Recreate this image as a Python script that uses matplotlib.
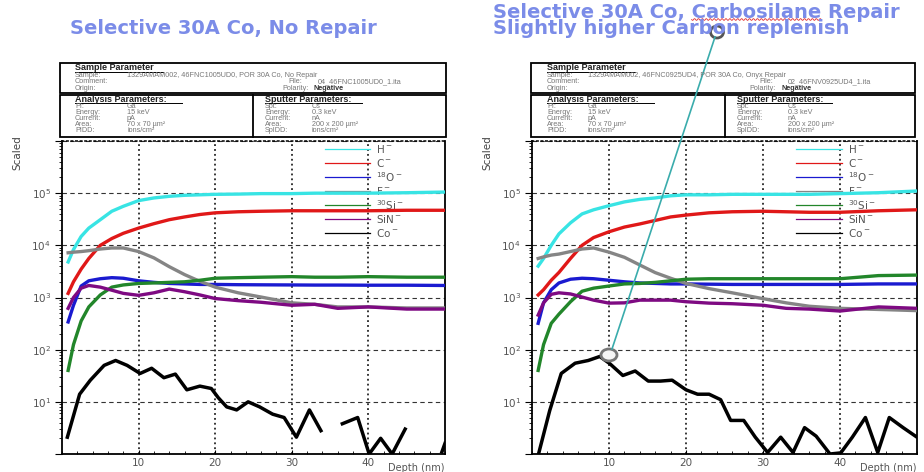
import numpy as np
import matplotlib
matplotlib.use("Agg")
import matplotlib.pyplot as plt
from matplotlib.patches import Rectangle, Ellipse
from matplotlib.ticker import LogLocator, MultipleLocator, NullFormatter

plt.rcParams['font.family'] = ['Liberation Sans', 'DejaVu Sans']
plt.rcParams['mathtext.default'] = 'regular'

# --- data (depth in nm, intensity in counts) ---
depth = [0.8, 1.5, 2.5, 3.5, 5, 6.5, 8, 10, 12, 14, 16, 18, 20, 23, 26, 30, 33, 36, 40, 45, 50]

species = ['H$^-$', 'C$^-$', '$^{18}$O$^-$', 'F$^-$', '$^{30}$Si$^-$', 'SiN$^-$', 'Co$^-$']
colors = ['#38e4e4', '#e01818', '#1a1ad0', '#858585', '#22862a', '#7e0a82', '#000000']

# No Repair
h_norep = [4800, 8300, 14800, 21400, 31000, 45000, 56000, 72000, 81000, 87000, 91000,
           93000, 95000, 96000, 98000, 98000, 100000, 100000, 100000, 102000, 105000]
c_norep = [1200, 2000, 3500, 5600, 10000, 13500, 17000, 21400, 26000, 31000, 35000,
           39000, 42000, 44000, 45000, 46000, 46000, 46000, 46000, 47000, 47000]
o18_norep = [340, 710, 1660, 2090, 2290, 2400, 2340, 2090, 1950, 1860, 1820,
             1780, 1780, 1760, 1750, 1740, 1730, 1730, 1720, 1720, 1700]
f_norep = [7200, 7400, 7600, 7900, 8500, 8900, 8900, 7600, 5750, 3900, 2750,
           2040, 1580, 1230, 1020, 790, 740, 660, 660, 630, 630]
si30_norep = [40, 125, 355, 660, 1120, 1580, 1740, 1860, 1900, 1950, 2000,
              2140, 2340, 2400, 2450, 2510, 2450, 2450, 2510, 2450, 2450]
sin_norep = [620, 1000, 1510, 1700, 1580, 1380, 1200, 1100, 1230, 1450, 1290,
             1120, 955, 870, 810, 710, 740, 620, 660, 600, 600]
co_depth_norep = [0.7, 2.3, 3.7, 5.5, 7.0, 8.5, 10.2, 11.7, 13.3, 14.8, 16.3, 18.0, 19.5,
                  20.4, 21.5, 22.8, 24.3, 25.8, 27.5, 29.0, 30.6, 32.3, 33.8, 35.2, 36.6,
                  38.6, 40.1, 41.6, 43.1, 44.8, 46.0, 49.6, 50.0]
co_norep = [2.1, 14, 26, 50, 62, 50, 35, 44, 29, 34, 17, 20, 18,
            12, 8, 7, 10, 8, 5.8, 5, 2.1, 7, 2.8, np.nan, 3.8,
            5, 1.0, 2.0, 1.0, 3.0, np.nan, 1.1, 1.6]

# Carbosilane Repair
h_rep = [4000, 5600, 10000, 16600, 27000, 40000, 48000, 57500, 68000, 76000, 81000,
         89000, 93000, 93000, 95000, 95000, 95000, 95000, 98000, 102000, 110000]
c_rep = [1120, 1410, 2140, 3020, 5600, 10000, 14100, 18200, 22400, 25700, 30000,
         35000, 38000, 42000, 44000, 45000, 44000, 43000, 43000, 46000, 48000]
o18_rep = [320, 790, 1410, 1900, 2240, 2340, 2290, 2140, 2000, 1900, 1860,
           1820, 1820, 1800, 1780, 1780, 1780, 1780, 1780, 1820, 1820]
f_rep = [5600, 6000, 6500, 6800, 7600, 8500, 8900, 7400, 5900, 4200, 3000,
         2340, 1860, 1480, 1230, 950, 790, 680, 620, 590, 560]
si30_rep = [40, 125, 320, 480, 830, 1320, 1510, 1660, 1820, 1860, 1950,
            2090, 2240, 2290, 2290, 2290, 2290, 2290, 2290, 2630, 2690]
sin_rep = [460, 790, 1150, 1230, 1170, 1020, 890, 780, 790, 890, 890,
           890, 830, 780, 760, 710, 620, 600, 550, 660, 620]
co_depth_rep = [0.9, 2.3, 3.8, 5.6, 7.3, 8.8, 10.1, 11.8, 13.4, 15.1, 16.7, 18.2, 20.0,
                21.5, 23.0, 24.5, 25.8, 27.5, 29.0, 30.6, 32.3, 33.9, 35.4, 36.9, 38.7,
                40.1, 41.6, 43.3, 44.9, 46.4, 48.2, 50.0]
co_rep = [1.07, 6.8, 35, 55, 62, 74, 54, 32, 39, 25, 25, 26, 17,
          14, 14, 11, 4.4, 4.4, 2.1, 1.07, 2.1, 1.07, 3.2, 2.2, 1.0,
          1.05, 2.1, 5.0, 1.07, 5.0, 3.2, 2.1]

W, H = 924, 472
fig = plt.figure(figsize=(W / 100, H / 100), dpi=100)


def frac(x0, y0, x1, y1):
    return [x0 / W, 1 - y1 / H, (x1 - x0) / W, (y1 - y0) / H]


def draw_panel(ax, curves, co_d, co_v):
    for vals, col in zip(curves, colors[:6]):
        ax.plot(depth, vals, color=col, lw=2.4, zorder=3, solid_joinstyle='round')
    ax.plot(co_d, co_v, color=colors[6], lw=2.5, zorder=3, solid_joinstyle='round')

    ax.set_yscale('log')
    ax.set_ylim(1, 1e6)
    ax.set_xlim(0, 50)

    ax.set_yticks([10 ** k for k in range(7)])
    ax.set_yticklabels([''] + ['10$^{%d}$' % k for k in range(1, 6)] + [''])
    ax.yaxis.set_minor_locator(LogLocator(base=10, subs=range(2, 10)))
    ax.yaxis.set_minor_formatter(NullFormatter())
    ax.set_xticks([10, 20, 30, 40])
    ax.set_xticklabels(['10', '20', '30', '40'])
    ax.xaxis.set_minor_locator(MultipleLocator(2))

    ax.tick_params(axis='y', which='major', length=5, width=0.8, labelsize=7.5,
                   labelcolor='#555', pad=3)
    ax.tick_params(axis='y', which='minor', length=2.5, width=0.6)
    ax.tick_params(axis='x', which='major', length=3, direction='in', labelsize=7.5,
                   labelcolor='#555', pad=3)
    ax.tick_params(axis='x', which='minor', length=2, direction='in')
    for lab in ax.get_xticklabels() + ax.get_yticklabels():
        lab.set_family('DejaVu Sans')

    ax.xaxis.grid(True, color='k', ls=(0, (1.2, 2)), lw=1.1, zorder=1)
    ax.yaxis.grid(True, which='major', color='#333', ls=(0, (4, 3)), lw=0.8, zorder=1)
    ax.set_axisbelow(True)

    for s in ['left', 'bottom', 'right']:
        ax.spines[s].set_linewidth(1.3)
    ax.spines['top'].set_linestyle((0, (1, 2)))
    ax.spines['top'].set_linewidth(1.1)

    # legend
    for i, (lab, col) in enumerate(zip(species, colors)):
        y = 0.974 - i * 0.0447
        ax.plot([0.687, 0.804], [y, y], transform=ax.transAxes, color=col, lw=0.9, zorder=2)
        ax.text(0.82, y, lab, transform=ax.transAxes, va='center', ha='left',
                fontsize=7.5, color='#555', zorder=2, family='DejaVu Sans')

    ax.text(1.0, -0.045, 'Depth (nm)', transform=ax.transAxes, ha='right', va='center',
            fontsize=7, color='#555', family='DejaVu Sans')


ax_l = fig.add_axes(frac(62, 141, 445, 454))
draw_panel(ax_l, [h_norep, c_norep, o18_norep, f_norep, si30_norep, sin_norep],
           co_depth_norep, co_norep)
ax_r = fig.add_axes(frac(532, 141, 917, 454))
draw_panel(ax_r, [h_rep, c_rep, o18_rep, f_rep, si30_rep, sin_rep],
           co_depth_rep, co_rep)

# --- overlay in pixel coordinates for titles, header tables and annotation ---
ov = fig.add_axes([0, 0, 1, 1])
ov.set_xlim(0, W)
ov.set_ylim(H, 0)
ov.axis('off')
ov.patch.set_visible(False)

title_color = '#7b8ce8'
tkw = dict(fontsize=14, fontweight='bold', color=title_color, ha='left',
           va='baseline', family='DejaVu Sans')
ov.text(70, 33.5, 'Selective 30A Co, No Repair', **tkw)
ov.text(493, 33.5, 'Selective 30A Co, Carbosilane Repair\nSlightly higher Carbon replenish',
        linespacing=0.8, **tkw)

# spell-check squiggle under "Carbosilane": measure where the word sits
renderer = fig.canvas.get_renderer()
probe = ov.text(0, 0, 'Selective 30A Co, ', **tkw)
pre_w = probe.get_window_extent(renderer).width
probe.set_text('Carbosilane')
word_w = probe.get_window_extent(renderer).width
probe.remove()
sq = np.linspace(493 + pre_w, 493 + pre_w + word_w, 200)
ov.plot(sq, 19.5 + 0.9 * np.sin((sq - sq[0]) * 1.6), color='#e03030', lw=0.6)

ov.text(17, 153, 'Scaled', rotation=90, fontsize=7.5, color='#444', ha='center', va='center',
        family='DejaVu Sans')
ov.text(487, 153, 'Scaled', rotation=90, fontsize=7.5, color='#444', ha='center', va='center',
        family='DejaVu Sans')


def header(x0, x1, xdiv, xs, sample, fname):
    lab_c = '#777'
    fs = 5.2
    hk = dict(fontsize=6.5, fontweight='bold', va='center', color='#222')
    tk = dict(fontsize=fs, color=lab_c, va='center')
    ov.add_patch(Rectangle((x0, 63), x1 - x0, 30, fill=False, ec='k', lw=1.3))
    ov.add_patch(Rectangle((x0, 95), x1 - x0, 42, fill=False, ec='k', lw=1.3))
    ov.plot([xdiv, xdiv], [95, 137], color='k', lw=1.3)
    lx, vx, filex, filev, polx, polv, spx, spv, ulw = xs
    ov.text(lx, 67.5, 'Sample Parameter', **hk)
    ov.plot([lx, lx + ulw[0]], [71.5, 71.5], color='k', lw=0.7)
    for y, lab in zip([75.7, 81.7, 88.3], ['Sample:', 'Comment:', 'Origin:']):
        ov.text(lx, y, lab, **tk)
    ov.text(vx, 75.7, sample, **tk)
    ov.text(filex, 81.7, 'File:', **tk)
    ov.text(filev, 81.7, fname, **tk)
    ov.text(polx, 88.3, 'Polarity:', **tk)
    ov.text(polv, 88.3, 'Negative', fontsize=fs, fontweight='bold', color='#333', va='center')

    ov.text(lx, 99.3, 'Analysis Parameters:', **hk)
    ov.plot([lx, lx + ulw[1]], [103.3, 103.3], color='k', lw=0.7)
    ov.text(spx, 99.3, 'Sputter Parameters:', **hk)
    ov.plot([spx, spx + ulw[2]], [103.3, 103.3], color='k', lw=0.7)
    rows = [106.7, 112.7, 119, 125, 131]
    for y, a, av, s, sv in zip(rows,
                               ['PI:', 'Energy:', 'Current:', 'Area:', 'PIDD:'],
                               ['Ga', '15 keV', 'pA', '70 x 70 µm²', 'ions/cm²'],
                               ['Spt:', 'Energy:', 'Current:', 'Area:', 'SpIDD:'],
                               ['Cs', '0.3 keV', 'nA', '200 x 200 µm²', 'ions/cm²']):
        ov.text(lx, y, a, **tk)
        ov.text(vx, y, av, **tk)
        ov.text(spx, y, s, **tk)
        ov.text(spv, y, sv, **tk)


header(60, 446, 253, (75, 127, 288, 318, 282, 313, 265, 312, (88, 107, 97)),
       '1329AMAM002, 46FNC1005UD0, POR 30A Co, No Repair', '04_46FNC1005UD0_1.ita')
header(531, 915, 725, (547, 588, 759, 788, 749, 781, 737, 788, (88, 107, 95)),
       '1329AMAM002, 46FNC0925UD4, POR 30A Co, Onyx Repair', '02_46FNV0925UD4_1.ita')

# annotation linking the title to the Co peak
ov.plot([715, 612], [37, 349], color='#3aacac', lw=1.2)
ov.add_patch(Ellipse((717, 32), 13, 12, fc='white', ec='#555', lw=2))
ov.add_patch(Ellipse((609, 355), 16, 12, fc='#f6f6f6', ec='#777', lw=2))

fig.savefig('out.png', dpi=100)
